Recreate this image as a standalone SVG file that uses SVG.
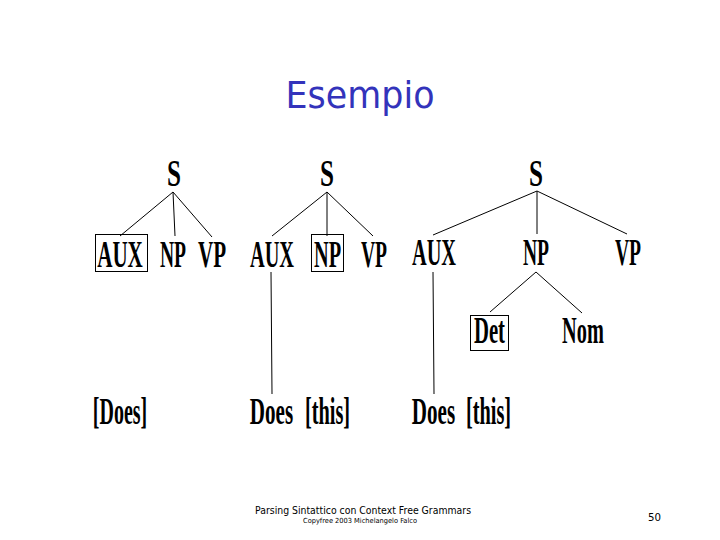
<svg xmlns="http://www.w3.org/2000/svg" width="720" height="540" viewBox="0 0 720 540">
<style>
.t{font-family:"Liberation Serif","Times New Roman",serif;font-weight:bold;font-size:37px;fill:#000;text-anchor:middle}
.e{stroke:#000;stroke-width:1;fill:none}
.b{stroke:#000;stroke-width:1;fill:none}
.f{font-family:"DejaVu Sans","Liberation Sans",sans-serif;fill:#000}
</style>
<rect width="720" height="540" fill="#fff"/>
<text x="360" y="108" text-anchor="middle" font-family="'DejaVu Sans','Liberation Sans',sans-serif" font-size="38" fill="#3333bb" textLength="149" lengthAdjust="spacingAndGlyphs">Esempio</text>
<g id="connectors">
<line class="e" x1="173" y1="192" x2="120" y2="236"/>
<line class="e" x1="173" y1="192" x2="175" y2="236"/>
<line class="e" x1="173" y1="192" x2="212" y2="237"/>
<line class="e" x1="327" y1="192" x2="272" y2="236"/>
<line class="e" x1="327" y1="192" x2="327" y2="236"/>
<line class="e" x1="327" y1="192" x2="373" y2="236"/>
<line class="e" x1="271" y1="272" x2="272" y2="394"/>
<line class="e" x1="537" y1="191" x2="433" y2="235"/>
<line class="e" x1="537" y1="191" x2="537" y2="234"/>
<line class="e" x1="537" y1="191" x2="627" y2="234"/>
<line class="e" x1="433" y1="272" x2="434" y2="394"/>
<line class="e" x1="536" y1="272" x2="490" y2="312"/>
<line class="e" x1="536" y1="272" x2="582" y2="313"/>
</g>
<g id="tree1">
<g id="s1"><text class="t" transform="translate(174,186) scale(0.68,1)">S</text></g>
<g id="aux1"><rect class="b" x="95.5" y="234.5" width="52" height="37"/><text class="t" transform="translate(120,267) scale(0.57,1)">AUX</text></g>
<g id="np1"><text class="t" transform="translate(173,267) scale(0.53,1)">NP</text></g>
<g id="vp1"><text class="t" transform="translate(212,267) scale(0.57,1)">VP</text></g>
<g id="does1"><text class="t" transform="translate(120,424) scale(0.54,1)">[Does]</text></g>
</g>
<g id="tree2">
<g id="s2"><text class="t" transform="translate(327,186) scale(0.68,1)">S</text></g>
<g id="aux2"><text class="t" transform="translate(272,267) scale(0.55,1)">AUX</text></g>
<g id="np2"><rect class="b" x="311.5" y="234.5" width="32" height="37"/><text class="t" transform="translate(327.5,267) scale(0.55,1)">NP</text></g>
<g id="vp2"><text class="t" transform="translate(374,267) scale(0.53,1)">VP</text></g>
<g id="does2"><text class="t" transform="translate(271.5,424) scale(0.57,1)">Does</text><text class="t" transform="translate(327.5,424) scale(0.55,1)">[this]</text></g>
</g>
<g id="tree3">
<g id="s3"><text class="t" transform="translate(536,186) scale(0.68,1)">S</text></g>
<g id="aux3"><text class="t" transform="translate(434,265) scale(0.55,1)">AUX</text></g>
<g id="np3"><text class="t" transform="translate(536,265) scale(0.53,1)">NP</text></g>
<g id="vp3"><text class="t" transform="translate(628,265) scale(0.53,1)">VP</text></g>
<g id="det"><rect class="b" x="470.5" y="315.5" width="38" height="35"/><text class="t" transform="translate(489.5,343) scale(0.56,1)">Det</text></g>
<g id="nom"><text class="t" transform="translate(583,343) scale(0.55,1)">Nom</text></g>
<g id="does3"><text class="t" transform="translate(433.5,424) scale(0.57,1)">Does</text><text class="t" transform="translate(488.5,424) scale(0.55,1)">[this]</text></g>
</g>
<text class="f" x="255" y="514" font-size="10.5" textLength="216" lengthAdjust="spacingAndGlyphs">Parsing Sintattico con Context Free Grammars</text>
<text class="f" x="303" y="523" font-size="7" textLength="114" lengthAdjust="spacingAndGlyphs">Copyfree 2003 Michelangelo Falco</text>
<text class="f" x="648" y="521" font-size="10.5" textLength="13" lengthAdjust="spacingAndGlyphs">50</text>
</svg>
